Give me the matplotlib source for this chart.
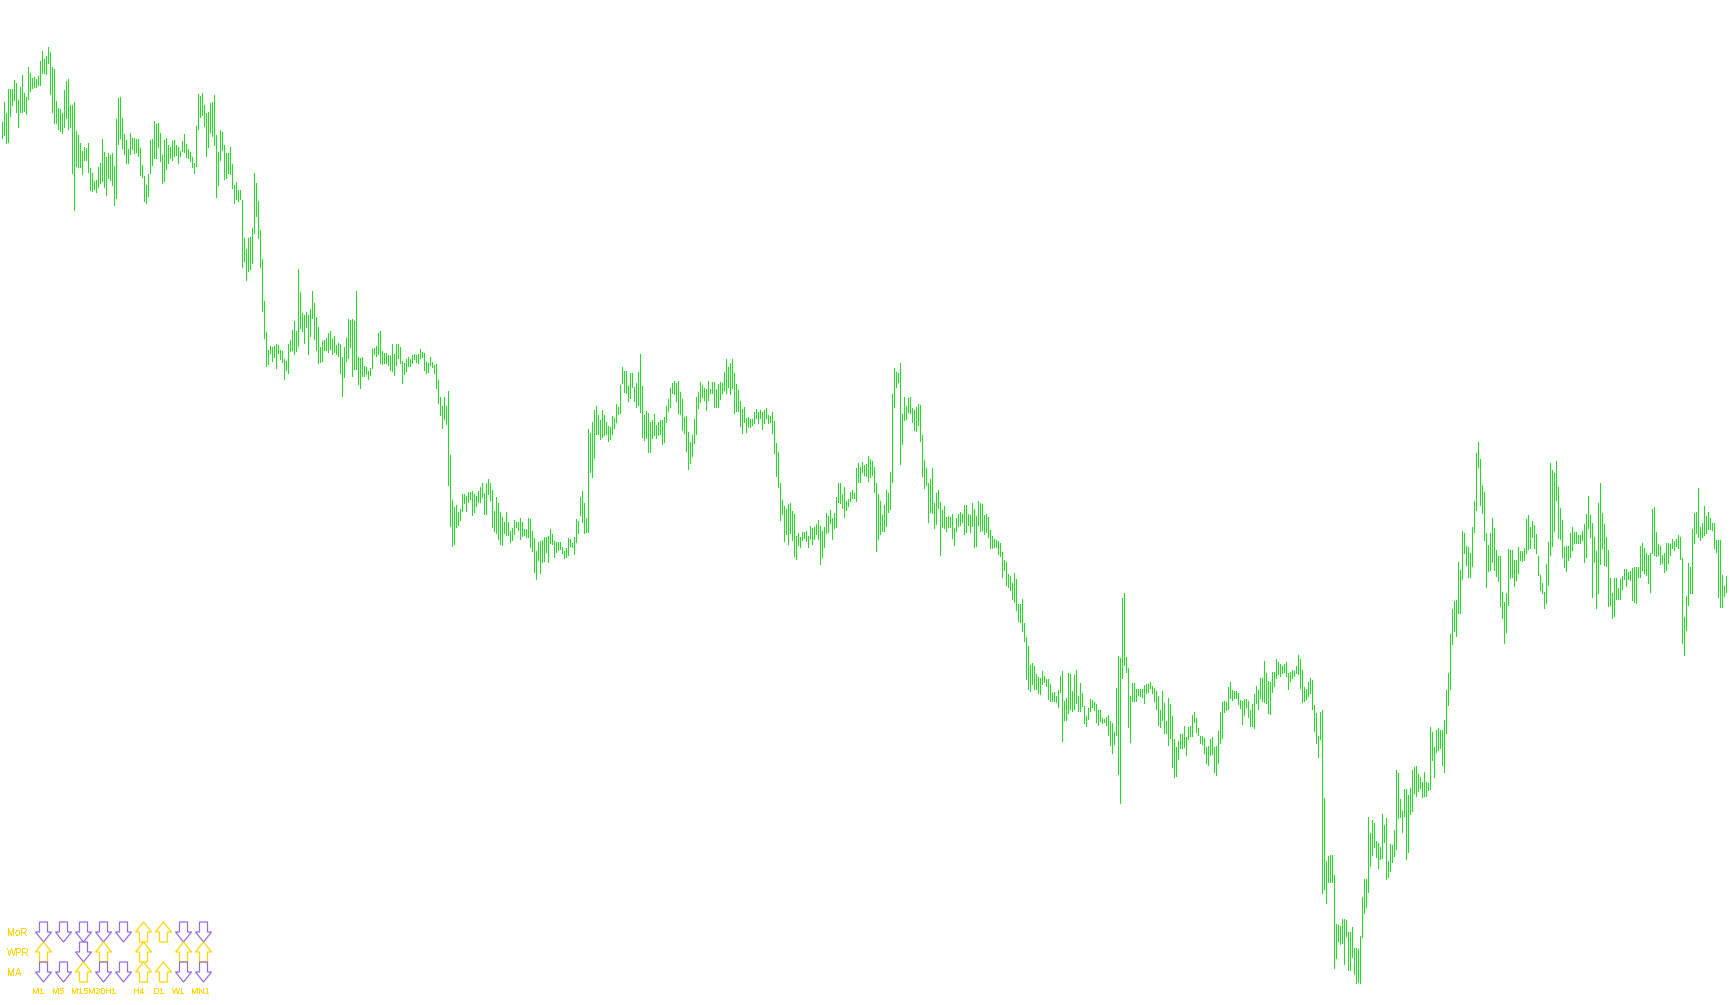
import matplotlib
matplotlib.use('Agg')
import matplotlib.pyplot as plt
from matplotlib.patches import Polygon

# bar highs / lows in price points (one bar every 2 px)
highs = [
    878, 898, 887, 911, 911, 911, 920, 917, 900, 913,
    925, 907, 903, 933, 927, 922, 923, 921, 924, 939,
    949, 941, 944, 953, 948, 933, 931, 899, 892, 891,
    887, 910, 919, 921, 895, 895, 898, 869, 865, 857,
    849, 853, 852, 857, 832, 827, 819, 820, 833, 837,
    861, 848, 843, 847, 845, 847, 834, 881, 902, 903,
    882, 866, 860, 851, 867, 862, 862, 861, 861, 852,
    835, 824, 815, 826, 860, 861, 879, 876, 877, 867,
    845, 860, 862, 855, 853, 859, 860, 855, 853, 849,
    859, 866, 856, 851, 848, 843, 837, 874, 906, 904,
    907, 895, 887, 888, 897, 898, 905, 865, 848, 870,
    868, 855, 847, 847, 853, 836, 815, 818, 810, 810,
    800, 762, 751, 762, 763, 772, 827, 817, 799, 770,
    741, 699, 668, 650, 654, 653, 654, 656, 655, 650,
    649, 641, 639, 656, 660, 670, 679, 669, 731, 708,
    687, 685, 688, 685, 691, 709, 697, 683, 673, 653,
    659, 660, 662, 667, 669, 661, 664, 655, 657, 656,
    643, 653, 662, 681, 680, 681, 679, 709, 643, 642,
    643, 634, 633, 629, 632, 651, 652, 654, 667, 669,
    649, 647, 647, 645, 644, 656, 646, 656, 656, 653,
    639, 637, 641, 643, 641, 645, 646, 645, 646, 651,
    648, 647, 638, 637, 643, 638, 635, 636, 620, 603,
    594, 603, 594, 609, 545, 500, 493, 495, 488, 491,
    506, 506, 504, 508, 508, 509, 506, 504, 509, 513,
    517, 507, 517, 521, 517, 510, 489, 503, 497, 488,
    483, 478, 488, 478, 469, 472, 480, 478, 478, 482,
    478, 471, 471, 482, 481, 469, 462, 449, 458, 459,
    460, 463, 463, 464, 471, 466, 459, 458, 458, 458,
    453, 449, 452, 462, 461, 457, 463, 481, 479, 503,
    509, 497, 482, 571, 567, 578, 590, 594, 585, 580,
    590, 585, 578, 574, 573, 584, 582, 596, 593, 615,
    633, 629, 629, 614, 627, 627, 613, 617, 628, 646,
    614, 585, 589, 587, 578, 580, 586, 575, 578, 580,
    580, 583, 594, 601, 612, 617, 619, 617, 619, 608,
    601, 583, 584, 568, 558, 565, 581, 603, 608, 618,
    615, 612, 611, 619, 611, 618, 618, 611, 616, 618,
    617, 628, 641, 633, 637, 641, 627, 616, 610, 599,
    591, 593, 582, 583, 581, 581, 588, 591, 588, 590,
    588, 590, 592, 585, 584, 588, 579, 557, 548, 517,
    500, 494, 491, 496, 497, 489, 486, 464, 467, 463,
    468, 468, 469, 464, 474, 472, 473, 476, 480, 474,
    469, 473, 487, 484, 490, 482, 487, 503, 517, 517,
    506, 513, 499, 501, 508, 510, 507, 532, 537, 533,
    538, 535, 536, 544, 541, 539, 533, 517, 506, 499,
    485, 495, 510, 507, 528, 606, 632, 628, 627, 637,
    586, 603, 594, 602, 603, 592, 590, 593, 596, 595,
    565, 540, 532, 517, 521, 532, 497, 507, 510, 498,
    490, 494, 483, 484, 483, 486, 472, 482, 486, 488,
    486, 495, 495, 486, 485, 497, 491, 484, 499, 497,
    496, 485, 486, 483, 470, 464, 461, 460, 459, 457,
    448, 440, 438, 426, 424, 417, 427, 421, 396, 396,
    401, 377, 363, 354, 335, 337, 334, 326, 323, 322,
    329, 324, 321, 321, 316, 307, 308, 304, 310, 324,
    329, 299, 302, 327, 326, 309, 325, 330, 304, 317,
    307, 294, 284, 292, 301, 300, 298, 296, 290, 290,
    282, 281, 283, 285, 279, 277, 268, 312, 344, 342,
    402, 407, 343, 332, 304, 317, 317, 311, 311, 311,
    311, 315, 316, 316, 318, 314, 312, 309, 304, 290,
    309, 297, 279, 302, 296, 284, 261, 253, 259, 266,
    266, 274, 263, 273, 274, 285, 288, 282, 272, 264,
    264, 262, 253, 254, 261, 263, 253, 254, 269, 288,
    298, 299, 298, 313, 318, 310, 309, 309, 307, 300,
    299, 301, 301, 299, 290, 296, 306, 314, 310, 322,
    322, 339, 327, 319, 318, 328, 328, 341, 338, 336,
    334, 336, 338, 327, 328, 330, 329, 334, 345, 341,
    330, 313, 311, 318, 322, 320, 295, 287, 264, 288,
    290, 202, 139, 144, 145, 145, 125, 76, 75, 74,
    81, 81, 80, 68, 68, 73, 52, 52, 51, 64,
    103, 121, 121, 183, 167, 180, 177, 159, 157, 153,
    186, 175, 182, 139, 156, 155, 170, 230, 227, 201,
    189, 211, 211, 205, 212, 230, 233, 234, 226, 223,
    218, 228, 218, 217, 273, 268, 253, 270, 272, 270,
    270, 280, 310, 327, 366, 391, 399, 400, 438, 430,
    469, 467, 454, 453, 447, 473, 499, 547, 558, 541,
    515, 508, 467, 455, 467, 482, 472, 450, 444, 444,
    408, 398, 407, 451, 450, 450, 440, 440, 453, 449,
    449, 452, 481, 485, 473, 479, 475, 466, 444, 425,
    417, 408, 436, 458, 537, 530, 527, 539, 513, 492,
    480, 453, 454, 454, 467, 473, 468, 468, 465, 465,
    469, 476, 486, 504, 485, 477, 463, 449, 497, 517,
    487, 476, 463, 450, 422, 407, 422, 422, 412, 421,
    424, 431, 431, 428, 429, 432, 433, 433, 433, 454,
    457, 452, 447, 445, 447, 491, 493, 468, 456, 454,
    445, 447, 457, 457, 456, 461, 459, 461, 465, 463,
    442, 383, 404, 437, 433, 471, 487, 488, 512, 473,
    477, 494, 484, 488, 482, 477, 477, 460, 460, 460,
    425, 414, 424,
]
lows = [
    862, 865, 857, 858, 884, 895, 900, 888, 873, 888,
    888, 889, 886, 901, 909, 912, 913, 913, 915, 915,
    927, 927, 926, 937, 906, 888, 877, 877, 871, 869,
    867, 873, 882, 871, 873, 827, 790, 834, 833, 833,
    826, 840, 840, 828, 810, 809, 811, 808, 813, 817,
    819, 813, 805, 822, 820, 815, 795, 802, 856, 862,
    852, 846, 837, 837, 846, 851, 847, 848, 844, 825,
    823, 799, 797, 804, 827, 835, 842, 842, 853, 839,
    817, 819, 831, 837, 842, 840, 844, 845, 837, 844,
    849, 848, 843, 842, 839, 833, 827, 834, 871, 883,
    885, 874, 844, 853, 868, 864, 855, 803, 815, 840,
    850, 821, 822, 827, 826, 812, 797, 801, 799, 801,
    733, 739, 720, 729, 731, 737, 767, 784, 762, 733,
    689, 662, 634, 636, 647, 639, 643, 632, 647, 641,
    638, 621, 630, 627, 649, 650, 646, 649, 654, 672,
    669, 657, 673, 646, 664, 682, 661, 650, 637, 638,
    639, 650, 650, 648, 651, 646, 648, 646, 644, 627,
    604, 623, 639, 642, 653, 624, 631, 631, 616, 612,
    624, 624, 626, 621, 625, 632, 646, 644, 646, 637,
    636, 637, 637, 635, 630, 629, 625, 635, 642, 637,
    617, 626, 629, 634, 634, 637, 641, 638, 637, 642,
    643, 630, 627, 628, 635, 633, 627, 612, 597, 585,
    572, 581, 576, 515, 474, 454, 456, 473, 475, 480,
    489, 497, 489, 498, 501, 485, 488, 494, 498, 498,
    503, 486, 486, 506, 500, 473, 469, 467, 461, 456,
    455, 467, 465, 465, 458, 460, 466, 473, 470, 461,
    464, 465, 463, 463, 453, 449, 428, 421, 440, 427,
    438, 439, 448, 438, 457, 456, 443, 448, 450, 451,
    447, 442, 443, 445, 454, 453, 446, 458, 467, 485,
    478, 467, 468, 468, 528, 523, 542, 566, 566, 561,
    563, 565, 566, 559, 561, 566, 572, 578, 586, 587,
    617, 608, 607, 599, 602, 613, 599, 593, 595, 588,
    563, 560, 562, 548, 548, 562, 565, 562, 565, 566,
    556, 558, 578, 589, 593, 607, 606, 599, 587, 586,
    570, 567, 549, 531, 537, 544, 557, 566, 592, 598,
    603, 600, 590, 600, 607, 607, 593, 593, 593, 601,
    607, 610, 607, 613, 606, 612, 587, 589, 589, 574,
    567, 578, 568, 574, 573, 575, 577, 582, 577, 582,
    571, 577, 582, 577, 578, 567, 547, 524, 513, 480,
    486, 459, 466, 456, 467, 460, 444, 441, 455, 453,
    460, 462, 459, 453, 462, 456, 461, 466, 461, 436,
    443, 453, 467, 468, 477, 461, 472, 473, 498, 497,
    492, 483, 490, 494, 499, 502, 502, 499, 518, 518,
    528, 525, 524, 519, 523, 525, 508, 449, 461, 466,
    469, 469, 474, 488, 491, 518, 593, 613, 618, 536,
    556, 580, 581, 588, 587, 578, 570, 569, 575, 559,
    524, 512, 515, 478, 488, 487, 472, 476, 492, 445,
    473, 472, 469, 473, 473, 462, 455, 469, 474, 475,
    478, 466, 468, 475, 468, 474, 453, 454, 475, 469,
    470, 466, 468, 463, 452, 452, 453, 453, 446, 444,
    423, 430, 415, 413, 410, 401, 398, 390, 379, 378,
    369, 359, 321, 311, 309, 316, 311, 311, 307, 306,
    316, 318, 314, 301, 299, 299, 299, 298, 293, 308,
    259, 280, 280, 287, 291, 289, 291, 297, 289, 289,
    294, 277, 274, 281, 289, 293, 290, 278, 275, 279,
    277, 278, 275, 265, 255, 247, 256, 265, 226, 197,
    322, 335, 328, 273, 258, 299, 299, 299, 305, 304,
    303, 297, 307, 308, 312, 307, 299, 291, 275, 273,
    280, 267, 267, 255, 262, 233, 223, 224, 241, 252,
    252, 253, 245, 261, 264, 264, 278, 268, 265, 257,
    256, 247, 237, 235, 245, 246, 228, 225, 237, 257,
    262, 288, 290, 291, 302, 300, 302, 302, 296, 292,
    276, 285, 293, 283, 274, 274, 272, 297, 291, 302,
    299, 298, 297, 287, 286, 308, 314, 322, 326, 324,
    327, 328, 324, 311, 319, 322, 324, 327, 326, 312,
    298, 299, 301, 304, 307, 291, 269, 257, 243, 261,
    107, 111, 97, 118, 118, 118, 32, 42, 59, 56,
    57, 36, 64, 30, 30, 43, 26, 17, 18, 17,
    63, 87, 93, 108, 134, 145, 153, 143, 132, 141,
    142, 158, 121, 123, 129, 138, 144, 151, 182, 183,
    168, 184, 141, 148, 186, 189, 207, 204, 209, 212,
    203, 204, 204, 210, 211, 240, 223, 248, 250, 252,
    235, 228, 267, 295, 311, 356, 369, 364, 387, 387,
    421, 447, 435, 423, 423, 434, 468, 490, 533, 495,
    487, 460, 413, 429, 430, 438, 430, 424, 419, 394,
    382, 357, 368, 395, 422, 423, 414, 420, 427, 440,
    439, 440, 447, 451, 452, 463, 452, 447, 425, 410,
    407, 392, 397, 415, 445, 454, 469, 500, 462, 461,
    443, 433, 429, 440, 443, 450, 457, 457, 457, 457,
    460, 438, 443, 472, 463, 403, 438, 392, 407, 436,
    452, 435, 434, 394, 395, 382, 384, 401, 401, 401,
    411, 421, 414, 421, 420, 400, 398, 397, 423, 423,
    430, 427, 425, 417, 408, 447, 445, 444, 445, 436,
    437, 428, 430, 437, 445, 452, 450, 454, 452, 441,
    357, 345, 370, 395, 407, 407, 457, 467, 463, 460,
    463, 465, 467, 471, 471, 470, 452, 448, 403, 393,
    393, 404, 408,
]

# signal panel: 1 = up, -1 = down, 0 = neutral
timeframes = ['M1', 'M5', 'M15', 'M30', 'H1', 'H4', 'D1', 'W1', 'MN1']
indicators = ['MoR', 'WPR', 'MA']
signals_mor = [-1, -1, -1, -1, -1, 1, 1, -1, -1]
signals_wpr = [1, 0, -1, 1, 0, 1, 0, 1, 1]
signals_ma = [-1, -1, 1, -1, -1, 1, 1, -1, -1]

W, H = 1730, 1005
BAR_COLOR = '#1fe01f'
UP_COLOR = '#ffd700'
DOWN_COLOR = '#9370db'

plt.rcParams['text.antialiased'] = False

fig = plt.figure(figsize=(W / 100, H / 100), dpi=100)
fig.patch.set_facecolor('white')

ax = fig.add_axes([0, 0, 1, 1])
n = min(len(highs), len(lows))
ax.vlines(range(n), lows[:n], highs[:n], colors=BAR_COLOR,
          linewidth=0.7, antialiased=False)
ax.set_xlim(-0.75, 864.25)
ax.set_ylim(-5, 1000)
ax.axis('off')

# overlay in pixel units for the signal table
ov = fig.add_axes([0, 0, 1, 1])
ov.set_xlim(0, W)
ov.set_ylim(H, 0)
ov.axis('off')


def arrow(cx, top, up, color):
    h, head, sw, hw = 20, 10, 4, 8
    if up:
        pts = [(cx, top), (cx + hw, top + head), (cx + sw, top + head),
               (cx + sw, top + h), (cx - sw, top + h), (cx - sw, top + head),
               (cx - hw, top + head)]
    else:
        pts = [(cx - sw, top), (cx + sw, top), (cx + sw, top + h - head),
               (cx + hw, top + h - head), (cx, top + h),
               (cx - hw, top + h - head), (cx - sw, top + h - head)]
    ov.add_patch(Polygon(pts, closed=True, fill=False, edgecolor=color,
                         linewidth=0.9))


font = dict(family='Liberation Sans', fontsize=6.3, color=UP_COLOR)
row_tops = [922, 942, 962]
for r, (name, sig) in enumerate(zip(indicators, [signals_mor, signals_wpr, signals_ma])):
    top = row_tops[r]
    ov.text(7, top + 11, name, ha='left', va='center', fontsize=7,
            family='Liberation Sans', color=UP_COLOR)
    for k, s in enumerate(sig):
        cx = 43.5 + 20 * k
        if s > 0:
            arrow(cx, top, True, UP_COLOR)
        elif s < 0:
            arrow(cx, top, False, DOWN_COLOR)

label_x = [32, 52, 71.5, 88.5, 105, 133, 153, 172, 191.5]
for tf, lx in zip(timeframes, label_x):
    ov.text(lx, 991, tf, ha='left', va='center', **font)

fig.savefig('out.png', dpi=100, facecolor='white')
